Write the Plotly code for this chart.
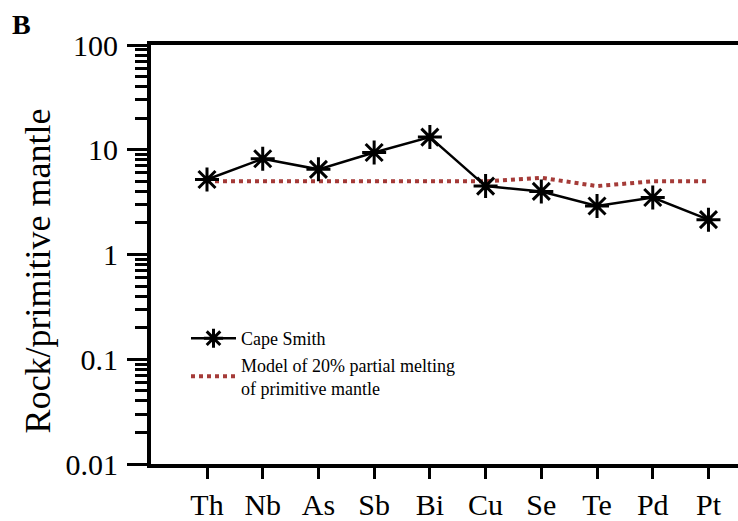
import plotly.graph_objects as go

elements = ["Th", "Nb", "As", "Sb", "Bi", "Cu", "Se", "Te", "Pd", "Pt"]
cape_smith = [5.2, 8.2, 6.5, 9.4, 13.2, 4.5, 4.0, 2.9, 3.5, 2.15]
model_20pct = [5.0, 5.0, 5.0, 5.0, 5.0, 5.0, 5.4, 4.5, 5.0, 5.0]
y_tickvals = [0.01, 0.1, 1, 10, 100]
y_ticktext = ["0.01", "0.1", "1", "10", "100"]

FONT = "Liberation Serif"
x_idx = list(range(len(elements)))

L, R, T, B = 151, 0, 45, 54
W, H = 738, 521
plot_w = W - L - R
plot_h = H - T - B


def px_x(px):
    return (px - L) / plot_w


def px_y(py):
    return (H - B - py) / plot_h


fig = go.Figure()
fig.add_trace(go.Scatter(
    x=x_idx, y=model_20pct, mode="lines",
    name="Model of 20% partial melting<br>of primitive mantle",
    line=dict(color="#a53b38", width=4, dash="4px,4px"),
    legendrank=2,
))
fig.add_trace(go.Scatter(
    x=x_idx, y=cape_smith, mode="lines+markers", name="Cape Smith",
    line=dict(color="black", width=2.5),
    marker=dict(symbol="asterisk-open", size=20, color="black",
                line=dict(color="black", width=3)),
    legendrank=1,
))

fig.update_layout(
    width=W, height=H,
    margin=dict(l=L, r=R, t=T, b=B),
    paper_bgcolor="white", plot_bgcolor="white",
    font=dict(family=FONT, color="black"),
    showlegend=True,
    legend=dict(x=px_x(186), y=px_y(322), xanchor="left", yanchor="top",
                font=dict(size=18, family=FONT), bgcolor="rgba(0,0,0,0)",
                itemwidth=45, traceorder="normal"),
    xaxis=dict(
        range=[-1.005, 9.53], tickmode="array", tickvals=x_idx, ticktext=elements,
        showgrid=False, zeroline=False,
        showline=True, linecolor="black", linewidth=4, mirror=True,
        ticks="outside", ticklen=11, tickwidth=3, tickcolor="black",
        tickfont=dict(size=30, family=FONT),
    ),
    yaxis=dict(
        type="log", range=[-2, 2], tickmode="array",
        tickvals=y_tickvals, ticktext=y_ticktext,
        showgrid=False, zeroline=False,
        showline=True, linecolor="black", linewidth=4,
        ticks="outside", ticklen=20, tickwidth=3, tickcolor="black",
        ticklabelstandoff=3,
        tickfont=dict(size=30, family=FONT),
        minor=dict(dtick="D1", ticks="outside", ticklen=12, tickwidth=2.5,
                   tickcolor="black", showgrid=False),
    ),
    annotations=[
        dict(text="<b>B</b>", x=px_x(21), y=px_y(24), xref="paper", yref="paper",
             xanchor="center", yanchor="middle", showarrow=False,
             font=dict(size=28, family=FONT)),
        dict(text="Rock/primitive mantle", x=px_x(38), y=px_y(273),
             xref="paper", yref="paper", xanchor="center", yanchor="middle",
             textangle=-90, showarrow=False, font=dict(size=36, family=FONT)),
    ],
)

fig.write_html("out.html")
